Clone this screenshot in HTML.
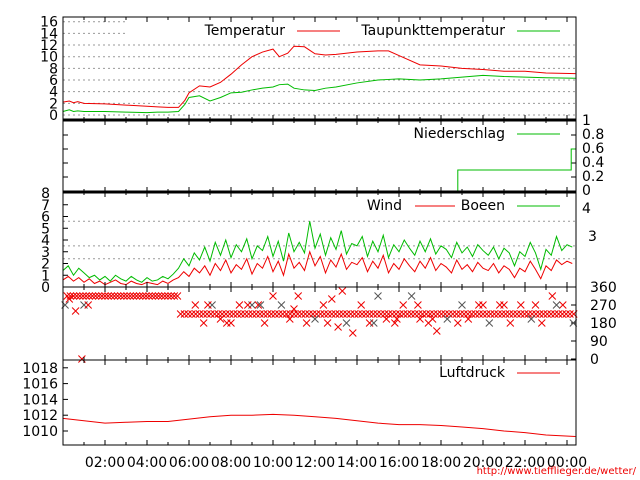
<!DOCTYPE html>
<html><head><meta charset="utf-8"><style>
body{margin:0;background:#fff}
svg{display:block;font-family:"DejaVu Sans","Liberation Sans",sans-serif}
</style></head><body>
<svg id="chart" width="640" height="480" viewBox="0 0 640 480" xmlns="http://www.w3.org/2000/svg">
<g id="g"></g>
<text x="636" y="474" font-size="10" fill="#e00" text-anchor="end">http://www.tiefflieger.de/wetter/</text>
</svg>
<script>
// ---- data ----
const tempHours=[0,0.3,0.5,0.7,1,2,3,4,4.5,5,5.5,5.8,6,6.5,7,7.5,8,8.5,9,9.5,10,10.3,10.7,11,11.5,12,12.5,13,14,15,15.5,16,17,18,19,20,21,22,23,24.4];
const tempVals=[2.2,2.4,2.1,2.3,2.0,1.9,1.7,1.5,1.4,1.3,1.3,2.5,3.8,5.0,4.8,5.6,7.0,8.6,10.0,10.8,11.3,10.0,10.6,11.8,11.7,10.5,10.3,10.4,10.8,11.0,11.0,10.2,8.6,8.4,8.0,7.8,7.5,7.5,7.2,7.1];
const dewVals=[0.6,0.9,0.6,0.7,0.6,0.6,0.5,0.4,0.5,0.5,0.6,1.8,3.0,3.3,2.4,3.0,3.8,3.9,4.3,4.6,4.8,5.2,5.3,4.6,4.3,4.2,4.6,4.8,5.5,6.0,6.1,6.2,6.0,6.2,6.5,6.8,6.6,6.5,6.4,6.3];
const precipHours=[0,18.8,18.8,24.2,24.2,24.4];
const precipVals=[0,0,0.3,0.3,0.6,0.6];
const windVals=[0.6,0.9,0.5,0.8,0.4,0.7,0.3,0.5,0.2,0.4,0.6,0.3,0.2,0.5,0.3,0.2,0.4,0.3,0.2,0.5,0.3,0.6,
0.8,1.3,0.9,1.6,1.2,1.8,1.0,2.0,1.4,2.3,1.2,1.9,1.5,2.4,1.1,2.0,1.6,2.6,1.3,2.2,1.0,2.8,1.6,2.1,1.4,3.0,1.8,2.6,1.2,2.3,1.7,2.8,1.5,2.1,1.9,2.5,1.3,2.2,1.6,2.7,1.2,2.0,1.5,2.4,1.8,1.3,2.2,1.6,2.5,1.4,2.0,1.7,1.2,2.3,1.5,1.9,1.3,2.1,1.6,1.4,2.0,1.2,1.8,1.5,0.8,1.6,1.3,2.2,1.5,0.7,1.8,1.4,2.3,1.9,2.2,2.0];
const gustVals=[1.4,1.8,1.0,1.6,1.2,0.8,1.0,0.6,0.9,0.5,1.0,0.7,0.5,0.9,0.6,0.4,0.8,0.5,0.6,0.9,0.7,1.1,
1.6,2.4,1.8,2.9,2.3,3.4,2.2,3.8,2.7,4.0,2.5,3.6,3.0,4.1,2.4,3.5,3.1,4.3,2.6,3.9,2.2,4.6,3.0,3.8,2.9,5.6,3.3,4.5,2.7,4.2,3.2,4.8,2.8,3.7,3.5,4.3,2.6,3.9,3.0,4.4,2.5,3.6,3.0,4.0,3.3,2.7,3.9,3.0,4.1,2.8,3.5,3.2,2.5,3.8,2.9,3.4,2.6,3.6,3.1,2.7,3.4,2.4,3.3,2.9,1.8,3.0,2.6,3.8,2.9,1.5,3.2,2.7,4.3,3.1,3.6,3.4];
const dirHours=[0.1,0.3,0.6,0.9,1.0,1.2,6.3,6.7,7.1,7.5,8.0,8.4,9.0,9.3,9.6,10.0,10.4,10.8,11.2,11.6,12.0,12.4,12.8,13.1,13.5,13.8,14.2,14.6,15.0,15.4,15.8,16.2,16.6,17.0,17.4,17.8,18.3,18.8,19.3,19.8,20.3,20.8,21.3,21.8,22.3,22.8,23.3,23.8,24.3,6.9,7.8,8.8,9.4,11.0,12.6,13.3,14.8,15.9,16.9,17.6,19.0,20.0,21.0,22.5,23.5];
const dirVals=[270,300,240,0,270,270,270,180,270,200,180,270,270,270,180,315,270,200,315,180,200,270,300,160,180,130,270,180,315,200,180,270,315,200,180,140,200,180,200,270,180,270,180,270,200,180,315,270,180,270,180,270,270,250,180,340,180,200,270,200,270,270,270,270,270];
const pressHours=[0,1,2,3,4,5,6,7,8,9,10,11,12,13,14,15,16,17,18,19,20,21,22,23,24.4];
const pressVals=[1011.6,1011.3,1011.0,1011.1,1011.2,1011.2,1011.5,1011.8,1012.0,1012.0,1012.1,1012.0,1011.8,1011.6,1011.3,1011.0,1010.8,1010.8,1010.7,1010.5,1010.3,1010.0,1009.8,1009.5,1009.3];
const timeLabels=["02:00","04:00","06:00","08:00","10:00","12:00","14:00","16:00","18:00","20:00","22:00","00:00"];
// ---- axes ----
const X0=63,X1=576;
const xs=h=>X0+h*21;
const yT=v=>115-v*5.83;
const yP=v=>191-v*70;
const yW=v=>287-v*11.75;
const yD=v=>359-v*72/360;
const yL=v=>431-(v-1010)*7.9;
const g=document.getElementById('g');
const NS='http://www.w3.org/2000/svg';
function el(tag,attrs,parent){const e=document.createElementNS(NS,tag);for(const k in attrs)e.setAttribute(k,attrs[k]);(parent||g).appendChild(e);return e;}
function txt(x,y,s,anchor,name,size){const t=el('text',{x:x,y:y,'font-size':size||14,'text-anchor':anchor||'end',fill:'#000'});t.textContent=s;


return t;}
function poly(xsArr,ysArr,color,name){const p=el('polyline',{points:xsArr.map((x,i)=>x+','+ysArr[i]).join(' '),fill:'none',stroke:color,'stroke-width':1});


return p;}
function grid(y,x1){const l=el('line',{x1:X0,x2:x1||X1,y1:y,y2:y,stroke:'#999','stroke-dasharray':'2,3','stroke-width':1});

}
// temperature panel
[0,2,4,6,8,10,12,14,16].forEach(v=>{grid(yT(v),v>=14?125:X1);txt(58,yT(v)+5,String(v),'end','temp-tick');});
poly(tempHours.map(xs),tempVals.map(yT),'#e00','temperature-line');
poly(tempHours.map(xs),dewVals.map(yT),'#0b0','dewpoint-line');
txt(285,35,'Temperatur','end','legend-temperatur');
el('line',{x1:297,x2:340,y1:31,y2:31,stroke:'#e00'});
txt(505,35,'Taupunkttemperatur','end','legend-taupunkt');
el('line',{x1:517,x2:560,y1:31,y2:31,stroke:'#0b0'});
// precipitation panel
[0,0.2,0.4,0.6,0.8,1].forEach(v=>{txt(582,yP(v)+4,String(v),'start','precip-tick');el('line',{x1:X1-5,x2:X1,y1:yP(v),y2:yP(v),stroke:'#000'});el('line',{x1:X0,x2:X0+5,y1:yP(v),y2:yP(v),stroke:'#000'});});
poly(precipHours.map(xs),precipVals.map(yP),'#0b0','precip-line');
txt(505,138,'Niederschlag','end','legend-niederschlag');
el('line',{x1:517,x2:560,y1:134,y2:134,stroke:'#0b0'});
// wind panel
[0,1,2,3,4,5,6,7,8].forEach(v=>{txt(50,yW(v)+5,String(v),'end','wind-tick');el('line',{x1:X0,x2:X0+5,y1:yW(v),y2:yW(v),stroke:'#000'});});
[2.4,3.5,5.6].forEach(v=>grid(yW(v)));
txt(582,213,'4','start','beaufort-tick');txt(588,241,'3','start','beaufort-tick');
const wh=windVals.map((v,i)=>i*0.25);
poly(wh.map(xs),gustVals.map(yW),'#0b0','gust-line');
poly(wh.map(xs),windVals.map(yW),'#e00','wind-line');
txt(402,210,'Wind','end','legend-wind');
el('line',{x1:415,x2:455,y1:206,y2:206,stroke:'#e00'});
txt(505,210,'Boeen','end','legend-boeen');
el('line',{x1:517,x2:560,y1:206,y2:206,stroke:'#0b0'});
// direction panel
[0,90,180,270,360].forEach(v=>{txt(590,yD(v)+5,String(v),'start','dir-tick');el('line',{x1:X1-5,x2:X1,y1:yD(v),y2:yD(v),stroke:'#000'});});
function cross(h,v,c){const x=xs(h),y=yD(v);const p=el('path',{d:`M${x-3.5},${y-3.5}L${x+3.5},${y+3.5}M${x-3.5},${y+3.5}L${x+3.5},${y-3.5}`,stroke:c,fill:'none'});

}
for(let h=0.2;h<5.6;h+=0.15)cross(h,315,'#e00');
for(let h=5.6;h<24.4;h+=0.18)cross(h,225,'#e00');
dirHours.forEach((h,i)=>cross(h,dirVals[i],i%4===0?'#555':'#e00'));
// pressure panel
[1010,1012,1014,1016,1018].forEach(v=>{txt(58,yL(v)+5,String(v),'end','pressure-tick');el('line',{x1:X0,x2:X0+5,y1:yL(v),y2:yL(v),stroke:'#000'});});
poly(pressHours.map(xs),pressVals.map(yL),'#e00','pressure-line');
txt(505,377,'Luftdruck','end','legend-luftdruck');
el('line',{x1:517,x2:560,y1:373,y2:373,stroke:'#e00'});
// frames
[[17,120],[120,192],[192,287],[287,360],[360,445]].forEach(([a,b])=>{const r=el('rect',{x:X0,y:a,width:X1-X0,height:b-a,fill:'none',stroke:'#000'});


for(let h=1;h<24.4;h++){el('line',{x1:xs(h),x2:xs(h),y1:a,y2:a+(h%2?3:5),stroke:'#000'});el('line',{x1:xs(h),x2:xs(h),y1:b,y2:b-(h%2?3:5),stroke:'#000'});}});
[120,192].forEach(y=>el('line',{x1:X0,x2:X1,y1:y,y2:y,stroke:'#000','stroke-width':3}));
timeLabels.forEach((s,i)=>txt(xs(2+2*i),467,s,'middle','time-label'));
</script>
</body></html>
